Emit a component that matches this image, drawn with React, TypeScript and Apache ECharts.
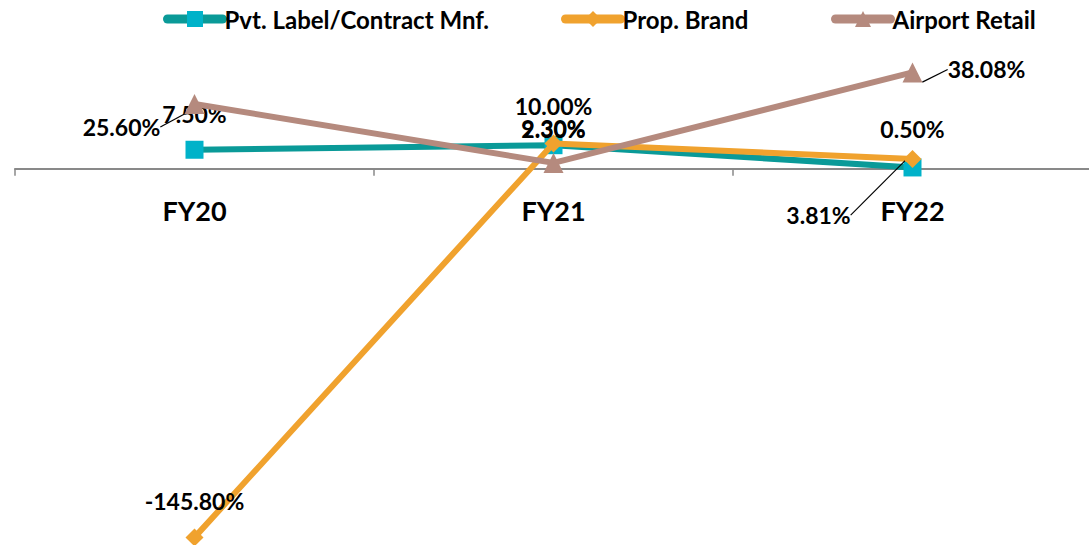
import React, { useEffect, useRef } from "react";
import * as echarts from "echarts";

const categories = ["FY20", "FY21", "FY22"];
const seriesNames = ["Pvt. Label/Contract Mnf.", "Prop. Brand", "Airport Retail"];
const pvtLabel = [7.5, 9.3, 0.5];
const propBrand = [-145.8, 10.0, 3.81];
const airportRetail = [25.6, 2.3, 38.08];

// label placement (style only)
const labelShift = [
  [[0, -36], [0, -17], [0, -38]],
  [[0, -36], [0, -37], [-94, 56]],
  [[-73, 23], [0, -34], [74, -3]],
];
const leaderOn = [
  [false, false, false],
  [false, false, true],
  [true, false, true],
];
const legendLeft = [158, 556, 826];

const FONT = "Lato";
const Y_MIN = -150;
const Y_MAX = 60;
const GRID_TOP = 17;
const GRID_H = 531;

export default function App() {
  const ref = useRef<HTMLDivElement>(null);
  useEffect(() => {
    const chart = echarts.init(ref.current!, null, { renderer: "svg" });
    const values = [pvtLabel, propBrand, airportRetail];
    const lineColors = ["#0A9A98", "#F0A22E", "#B58A7E"];
    const symColors = ["#00B2C9", "#F0A22E", "#B58A7E"];
    const symbols = ["rect", "diamond", "triangle"];
    const symSizes = [18, 18, 20];
    const series = values.map((vals, s) => ({
      name: seriesNames[s],
      type: "line",
      data: vals.map((v, i) => ({
        value: v,
        labelLine: { show: leaderOn[s][i] },
      })),
      symbol: symbols[s],
      symbolSize: symSizes[s],
      lineStyle: { color: lineColors[s], width: 6 },
      itemStyle: { color: symColors[s] },
      label: {
        show: true,
        position: "inside",
        formatter: (p: any) => p.value.toFixed(2) + "%",
        fontFamily: FONT,
        fontWeight: "bold",
        fontSize: 23,
        color: "#000",
      },
      labelLine: { show: false, lineStyle: { color: "#000", width: 1.2 }, length2: 0 },
      labelLayout: (p: any) => ({
        dx: labelShift[s][p.dataIndex][0],
        dy: labelShift[s][p.dataIndex][1],
      }),
      z: 2 + s,
    }));
    // distance from grid bottom up to the zero line
    const zeroFromBottom = (GRID_H * (0 - Y_MIN)) / (Y_MAX - Y_MIN);
    chart.setOption({
      animation: false,
      textStyle: { fontFamily: FONT },
      legend: seriesNames.map((name, k) => ({
        top: 2,
        left: legendLeft[k],
        itemGap: 0,
        itemWidth: 55,
        itemHeight: 20,
        lineStyle: { width: 9, cap: "round" },
        textStyle: {
          fontFamily: FONT,
          fontWeight: "bold",
          fontSize: 24,
          color: "#000",
          padding: [0, 0, 0, -3],
        },
        data: [name],
      })),
      grid: {
        left: 15,
        top: GRID_TOP,
        width: 1077,
        height: GRID_H,
        containLabel: false,
        outerBoundsMode: "none",
      },
      xAxis: {
        type: "category",
        data: categories,
        offset: -zeroFromBottom,
        axisLine: { onZero: false, lineStyle: { color: "#898989", width: 2 } },
        axisTick: { show: true, length: 7, lineStyle: { color: "#898989", width: 1.5 } },
        axisLabel: {
          fontFamily: FONT,
          fontWeight: "bold",
          fontSize: 27,
          color: "#000",
          margin: 28,
        },
      },
      yAxis: {
        type: "value",
        min: Y_MIN,
        max: Y_MAX,
        show: false,
        splitLine: { show: false },
      },
      series,
    });
    return () => chart.dispose();
  }, []);
  return (
    <div
      ref={ref}
      style={{ position: "fixed", left: 0, top: 0, width: 1089, height: 545, background: "#fff" }}
    />
  );
}
